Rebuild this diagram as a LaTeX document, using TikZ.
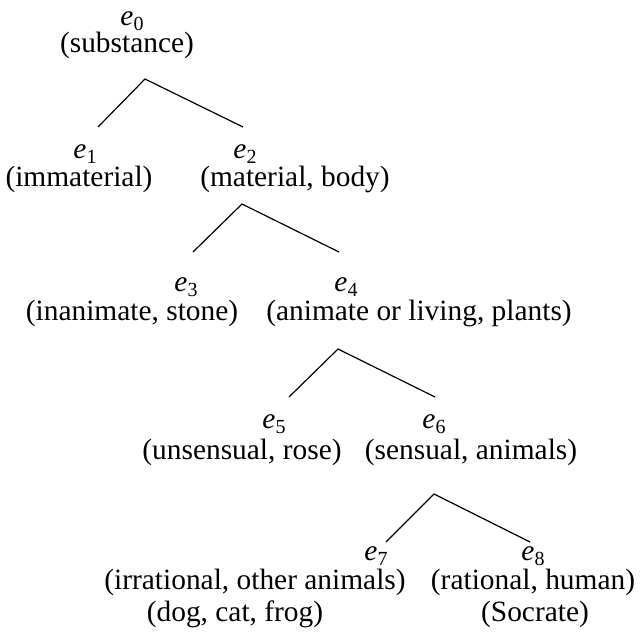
\documentclass[tikz,border=0pt]{standalone}
\usepackage{fontspec}
\setmainfont{Liberation Serif}
\newfontfamily\timesf{Liberation Serif}
\newcommand\ev[1]{\textit{e}\raisebox{-0.2em}{\fontsize{20}{20}\selectfont #1}}
\tikzset{
  txt/.style={anchor=base, inner sep=0pt, font=\timesf\fontsize{29.4}{34}\selectfont},
  branch/.style={line width=1.2pt, line join=miter}
}
\begin{document}
\begin{tikzpicture}[x=1pt,y=-1pt]
\useasboundingbox (0,0) rectangle (640,637);
% row 0
\node[txt] (e0) at (132,25) {\ev{0}};
\node[txt] (l0) at (127,52) {(substance)};
% row 1
\node[txt] (e1) at (85,158) {\ev{1}};
\node[txt] (e2) at (245,158) {\ev{2}};
\node[txt] (l1) at (79,186) {(immaterial)};
\node[txt] (l2) at (295,186) {(material, body)};
% row 2
\node[txt] (e3) at (186,291) {\ev{3}};
\node[txt] (e4) at (346,291) {\ev{4}};
\node[txt] (l3) at (132,320) {(inanimate, stone)};
\node[txt] (l4) at (419,320) {(animate or living, plants)};
% row 3
\node[txt] (e5) at (274,428) {\ev{5}};
\node[txt] (e6) at (434,428) {\ev{6}};
\node[txt] (l5) at (242,459) {(unsensual, rose)};
\node[txt] (l6) at (471,459) {(sensual, animals)};
% row 4
\node[txt] (e7) at (376,560) {\ev{7}};
\node[txt] (e8) at (533,560) {\ev{8}};
\node[txt] (l7) at (255,589) {(irrational, other animals)};
\node[txt] (l8) at (533,589) {(rational, human)};
\node[txt] (m7) at (235,621) {(dog, cat, frog)};
\node[txt] (m8) at (535,621) {(Socrate)};
% branch points
\coordinate (a0) at (145,79);
\coordinate (t1) at (98,127);
\coordinate (t2) at (243,127);
\coordinate (a1) at (242,204);
\coordinate (t3) at (193,252);
\coordinate (t4) at (339,252);
\coordinate (a2) at (338,349);
\coordinate (t5) at (289,397);
\coordinate (t6) at (435,397);
\coordinate (a3) at (434,494);
\coordinate (t7) at (386,542);
\coordinate (t8) at (530,542);
\draw[branch] (t1) -- (a0) -- (t2);
\draw[branch] (t3) -- (a1) -- (t4);
\draw[branch] (t5) -- (a2) -- (t6);
\draw[branch] (t7) -- (a3) -- (t8);
\end{tikzpicture}
\end{document}
